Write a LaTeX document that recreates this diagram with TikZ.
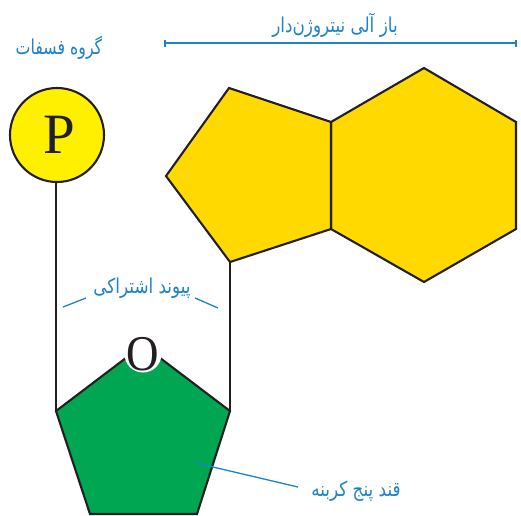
\documentclass[tikz,border=0pt]{standalone}
\usepackage{fontspec}
\setmainfont{Liberation Serif}
\newfontfamily\arabicfont[Script=Arabic]{DejaVu Sans}
\TeXXeTstate=1
\definecolor{labelblue}{RGB}{30,130,200}
\definecolor{basegold}{RGB}{255,217,0}
\definecolor{circyellow}{RGB}{255,240,0}
\definecolor{sugargreen}{RGB}{0,166,81}
\definecolor{ink}{RGB}{35,31,32}
\tikzset{
  x=1pt,y=-1pt,
  shapeline/.style={draw=ink,line width=2.1pt,line join=miter},
  bondline/.style={draw=ink,line width=2pt},
  leader/.style={draw=labelblue,line width=1.3pt},
  farsi/.style={text=labelblue,inner sep=0pt,font=\arabicfont\fontsize{20.5}{24}\selectfont,xscale=0.82},
  atom/.style={text=ink,inner sep=0pt},
}
\begin{document}
\begin{tikzpicture}
\useasboundingbox (0,0) rectangle (521,515);
% coordinates
\coordinate (h1) at (331,122);
\coordinate (h2) at (424,68);
\coordinate (h3) at (516,122);
\coordinate (h4) at (516,229);
\coordinate (h5) at (424,282);
\coordinate (h6) at (331,229);
\coordinate (p2) at (229,88);
\coordinate (p3) at (166,176);
\coordinate (p4) at (230,262);
\coordinate (s1) at (143,345);
\coordinate (s2) at (230,411);
\coordinate (s3) at (197,514);
\coordinate (s4) at (90,514);
\coordinate (s5) at (56,411);
% shapes
\filldraw[fill=basegold,shapeline] (h1)--(h2)--(h3)--(h4)--(h5)--(h6)--cycle;
\filldraw[fill=basegold,shapeline] (h1)--(p2)--(p3)--(p4)--(h6)--cycle;
\filldraw[fill=sugargreen,shapeline] (s1)--(s2)--(s3)--(s4)--(s5)--cycle;
\node[circle,minimum size=94pt,inner sep=0pt,fill=circyellow,shapeline,atom] (P) at (57,135) {\hspace*{4pt}\fontsize{57}{57}\selectfont P};
\draw[bondline] (s5 |- P.south) -- (s5);
\draw[bondline] (p4) -- (s2);
\node[circle,fill=white,minimum size=37pt,inner sep=0pt] (Ohalo) at (143,354) {};
\node[atom,xscale=0.9] (O) at (143,354) {\fontsize{50}{50}\selectfont O};
% labels
\node[farsi] (base) at (335,25) {\beginR باز آلی نیتروژن‌دار\endR};
\node[farsi,xscale=0.94] (phos) at (59,48) {\beginR گروه فسفات\endR};
\node[farsi] (bond) at (142,288) {\beginR پیوند اشتراکی\endR};
\node[farsi] (sugar) at (356,491) {\beginR قند پنج کربنه\endR};
% leaders
\coordinate (b1) at (165,43);
\coordinate (b2) at (516,43);
\draw[leader] (b1) -- (b2);
\draw[leader] ([yshift=-3.5pt]b1) -- ([yshift=3.5pt]b1);
\draw[leader] ([yshift=-3.5pt]b2) -- ([yshift=3.5pt]b2);
\coordinate (l1) at (63,307);
\coordinate (l2) at (86,298);
\coordinate (l3) at (195,298);
\coordinate (l4) at (218,308);
\coordinate (l5) at (196,463);
\coordinate (l6) at (298,487);
\draw[leader] (l1) -- (l2);
\draw[leader] (l3) -- (l4);
\draw[leader] (l5) -- (l6);
\end{tikzpicture}
\end{document}
